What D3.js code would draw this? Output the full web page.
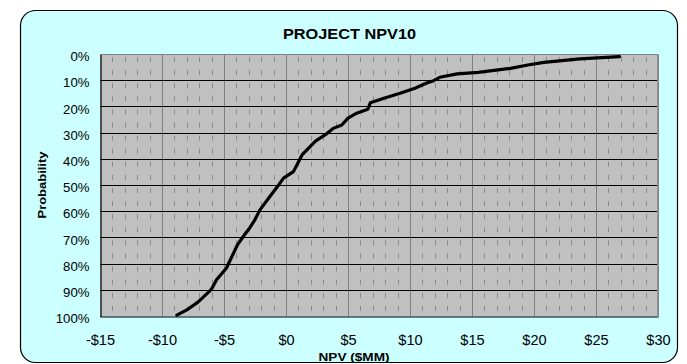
<!DOCTYPE html>
<html>
<head>
<meta charset="utf-8">
<script src="https://cdn.jsdelivr.net/npm/d3@7/dist/d3.min.js"></script>
<style>
  html, body { margin: 0; padding: 0; background: #ffffff; }
  svg { display: block; }
  text { font-family: "Liberation Sans", Arial, sans-serif; fill: #000; }
</style>
</head>
<body>
<svg id="chart" width="687" height="364"></svg>
<script>
// Cumulative distribution of project NPV at 10% discount
const npv = [-8.8, -8.0, -7.1, -6.2, -6.0, -5.6, -4.8, -4.4, -3.9, -3.3, -2.9, -2.5, -2.1, -1.3, -0.7,
             -0.2, 0.6, 1.0, 1.3, 1.8, 2.4, 3.15, 3.8, 4.5, 5.0, 5.7, 6.6, 6.8, 7.9, 9.2, 10.4,
             11.3, 11.9, 12.4, 13.8, 15.5, 18.1, 19.5, 20.8, 23.7, 26.9];
const probability = [99.5, 97.5, 94.5, 90.5, 89.5, 86.0, 81.5, 77.5, 72.5, 68.5, 66.0, 63.0, 59.3, 54.2, 50.5,
                     47.2, 44.7, 41.0, 38.3, 35.8, 33.0, 30.7, 28.2, 26.9, 24.3, 22.4, 20.9, 18.4, 16.7, 14.8, 12.9,
                     11.0, 10.0, 8.7, 7.4, 6.8, 5.3, 4.0, 3.0, 1.7, 0.8];

const xTickValues = [-15, -10, -5, 0, 5, 10, 15, 20, 25, 30];
const xTickLabels = ["-$15", "-$10", "-$5", "$0", "$5", "$10", "$15", "$20", "$25", "$30"];
const yTickValues = [0, 10, 20, 30, 40, 50, 60, 70, 80, 90, 100];
const yTickLabels = ["0%", "10%", "20%", "30%", "40%", "50%", "60%", "70%", "80%", "90%", "100%"];

const chartTitle = "PROJECT NPV10";
const xTitle = "NPV ($MM)";
const yTitle = "Probability";

const svg = d3.select("#chart");

const plot = { left: 100, right: 658, top: 54.5, bottom: 316.5 };
const x = d3.scaleLinear().domain([-15, 30]).range([plot.left, plot.right]);
const y = d3.scaleLinear().domain([0, 100]).range([plot.top, plot.bottom]);
const px = v => Math.round(x(v)) + 0.5;
const py = v => Math.round(y(v) - 0.5) + 0.5;

// Rounded chart frame
svg.append("rect")
  .attr("x", 20.5).attr("y", 10.5)
  .attr("width", 657).attr("height", 352)
  .attr("rx", 15).attr("ry", 15)
  .attr("fill", "#ccffff")
  .attr("stroke", "#000").attr("stroke-width", 1.2);

// Plot background
svg.append("rect")
  .attr("x", plot.left).attr("y", plot.top)
  .attr("width", plot.right - plot.left).attr("height", plot.bottom - plot.top)
  .attr("fill", "#c0c0c0");

// Minor vertical gridlines (dashed, every $1)
const minorG = svg.append("g").attr("stroke", "#8a8a8a").attr("stroke-width", 1);
d3.range(-15, 31).filter(v => v % 5 !== 0).forEach(v => {
  d3.range(0, 100, 5).forEach(p => {
    const y1 = y(p) + 2.5;
    minorG.append("line")
      .attr("x1", px(v)).attr("x2", px(v))
      .attr("y1", y1).attr("y2", y1 + 5);
  });
});

// Major vertical gridlines
svg.append("g").selectAll("line")
  .data(xTickValues.filter(v => v > -15))
  .join("line")
  .attr("x1", d => px(d)).attr("x2", d => px(d))
  .attr("y1", plot.top).attr("y2", plot.bottom)
  .attr("stroke", "#808080").attr("stroke-width", 1);

// Top border of plot
svg.append("line")
  .attr("x1", plot.left).attr("x2", plot.right)
  .attr("y1", py(0)).attr("y2", py(0))
  .attr("stroke", "#808080");

// Horizontal gridlines
svg.append("g").selectAll("line")
  .data(yTickValues.filter(v => v > 0 && v < 100))
  .join("line")
  .attr("x1", plot.left).attr("x2", plot.right)
  .attr("y1", d => py(d)).attr("y2", d => py(d))
  .attr("stroke", "#000").attr("stroke-width", 1);

// Axes
const xAxis = d3.axisBottom(x)
  .tickValues(xTickValues)
  .tickFormat((d, i) => xTickLabels[i])
  .tickSize(0).tickPadding(0);
const gx = svg.append("g")
  .attr("transform", `translate(0,${py(100)})`)
  .call(xAxis);
gx.select(".domain").attr("stroke", "#000").attr("stroke-width", 1.2);
gx.selectAll("text")
  .attr("y", 0).attr("dy", null)
  .style("font-size", "14px")
  .attr("transform", "translate(0,28) scale(1.04,1)");

const yAxis = d3.axisLeft(y)
  .tickValues(yTickValues)
  .tickFormat((d, i) => yTickLabels[i])
  .tickSize(0).tickPadding(0);
const gy = svg.append("g")
  .attr("transform", `translate(${plot.left + 0.5},0)`)
  .call(yAxis);
gy.select(".domain").attr("stroke", "#000").attr("stroke-width", 1.2);
gy.selectAll("text")
  .attr("x", 0).attr("dy", "0.35em")
  .style("font-size", "12px")
  .attr("transform", "translate(-11,2) scale(1.1,1)");

// Right border of plot
svg.append("line")
  .attr("x1", plot.right - 0.5).attr("x2", plot.right - 0.5)
  .attr("y1", plot.top).attr("y2", plot.bottom)
  .attr("stroke", "#909090");

// Distribution curve
const line = d3.line()
  .x((d, i) => x(npv[i]))
  .y((d, i) => y(probability[i]));
svg.append("path")
  .datum(npv)
  .attr("d", line)
  .attr("fill", "none")
  .attr("stroke", "#000")
  .attr("stroke-width", 3.2)
  .attr("stroke-linejoin", "round")
  .attr("stroke-linecap", "round");

// Titles
svg.append("text")
  .attr("x", 349.5).attr("y", 39)
  .attr("text-anchor", "middle")
  .attr("textLength", 133).attr("lengthAdjust", "spacingAndGlyphs")
  .style("font-size", "14.5px").style("font-weight", "bold")
  .text(chartTitle);

svg.append("text")
  .attr("x", 354).attr("y", 361)
  .attr("text-anchor", "middle")
  .attr("textLength", 71).attr("lengthAdjust", "spacingAndGlyphs")
  .style("font-size", "11.5px").style("font-weight", "bold")
  .text(xTitle);

svg.append("text")
  .attr("transform", "translate(46,185) rotate(-90)")
  .attr("text-anchor", "middle")
  .attr("textLength", 67).attr("lengthAdjust", "spacingAndGlyphs")
  .style("font-size", "11.5px").style("font-weight", "bold")
  .text(yTitle);
</script>
</body>
</html>
